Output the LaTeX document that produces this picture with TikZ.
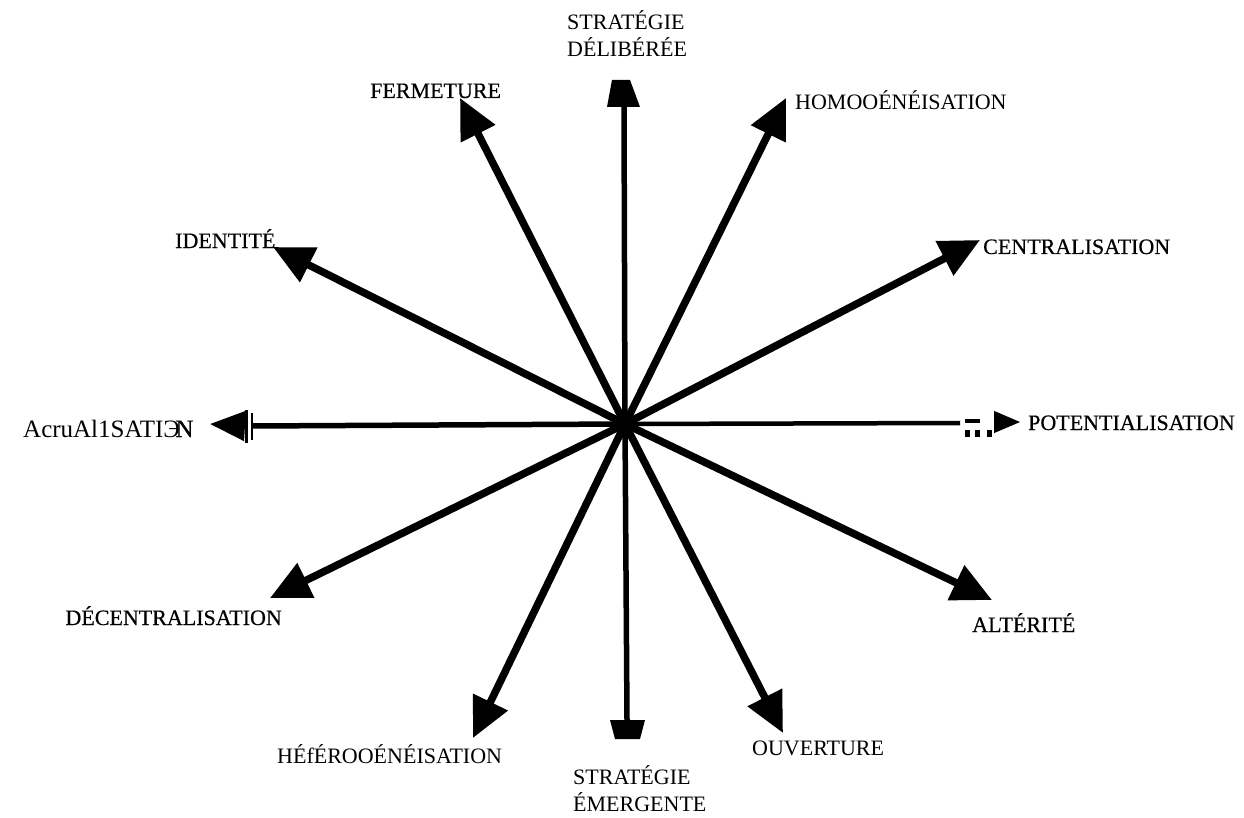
\documentclass[tikz,border=0pt]{standalone}
\usepackage{fontspec}
\setmainfont{Liberation Serif}
\newfontfamily\heavyserif[FakeBold=0.5]{Liberation Serif}
\usetikzlibrary{arrows.meta}
\begin{document}
\begin{tikzpicture}[x=1pt,y=-1pt,
  shaft/.style={line width=7.5pt,-{Triangle[length=40pt,width=37pt]}},
  thinshaft/.style={line width=5.5pt},
  lbl/.style={inner sep=0pt,font=\fontsize{22}{27}\selectfont},
  blbl/.style={inner sep=0pt,font=\heavyserif\fontsize{22}{27}\selectfont}]
\useasboundingbox (0,0) rectangle (1244,818);
% centre and tips
\coordinate (O) at (625,424);
\coordinate (tF) at (460,98);
\coordinate (tH) at (786,98);
\coordinate (tC) at (980,240);
\coordinate (tI) at (273,247);
\coordinate (tD) at (270,598);
\coordinate (tA) at (992,600);
\coordinate (tHe) at (473,738);
\coordinate (tO) at (783,733);
\coordinate (tU) at (624,107);
\coordinate (tDn) at (627,720);
\coordinate (bL) at (252,426);
\coordinate (hL) at (245,426);
\coordinate (tL) at (210,424);
\coordinate (eR) at (960,423);
\coordinate (hR) at (994,422);
\coordinate (tR) at (1020,422);
% diagonal arrows
\foreach \t in {tF,tH,tC,tI,tD,tA,tHe,tO} \draw[shaft] (O) -- (\t);
% vertical arrows with truncated heads
\draw[thinshaft] (O) -- (tU);
\fill (tU) ++(-17,0) -- ++(33,0) -- ++(-10,-27) -- ++(-18,0) -- cycle;
\draw[thinshaft] (O) -- (tDn);
\fill (tDn) ++(-17,0) -- ++(35,0) -- ++(-5,19) -- ++(-25,0) -- cycle;
% left arrow with bars
\draw[thinshaft] (O) -- (bL);
\draw[line width=3.5pt] (hL) ++(1.5,-16) -- ++(0,33);
\draw[line width=2pt] (bL) ++(0,-13) -- ++(0,27);
\draw[line width=5pt,-{Triangle[length=35pt,width=29pt]}] (hL) -- (tL);
% right arrow with broken end
\draw[line width=4.5pt] (O) -- (eR);
\draw[line width=4.5pt] (eR) ++(5,-2) -- ++(15,0);
\fill (eR) ++(5,7) rectangle ++(5,7);
\fill (eR) ++(15,7) rectangle ++(5,7);
\fill (eR) ++(27,7) rectangle ++(5,7);
\draw[line width=1pt,-{Triangle[length=26pt,width=22pt]}] (hR) -- (tR);
% labels
\node[lbl,anchor=north west,align=left] (lSD) at (567,10) {STRATÉGIE\\DÉLIBÉRÉE};
\node[blbl,anchor=base west] (lF) at (370,98) {FERMETURE};
\node[lbl,anchor=base west] (lH) at (795,110) {HOMOOÉNÉISATION};
\node[blbl,anchor=base west] (lI) at (175,248) {IDENTITÉ};
\node[blbl,anchor=base west] (lC) at (983,254) {CENTRALISATION};
\node[lbl,anchor=base west,font=\fontsize{25}{30}\selectfont] (lL) at (23,437) {AcruAl1SATI\rlap{Э}\kern12pt{\heavyserif N}};
\node[blbl,anchor=base west] (lP) at (1028,430) {POTENTIALISATION};
\node[blbl,anchor=base east] (lD) at (282,625) {DÉCENTRALISATION};
\node[blbl,anchor=base west] (lA) at (972,632) {ALTÉRITÉ};
\node[lbl,anchor=base west] (lHe) at (277,763) {HÉfÉROOÉNÉISATION};
\node[lbl,anchor=base west] (lO) at (752,755) {OUVERTURE};
\node[lbl,anchor=north west,align=left] (lSE) at (573,765) {STRATÉGIE\\ÉMERGENTE};
\end{tikzpicture}
\end{document}
